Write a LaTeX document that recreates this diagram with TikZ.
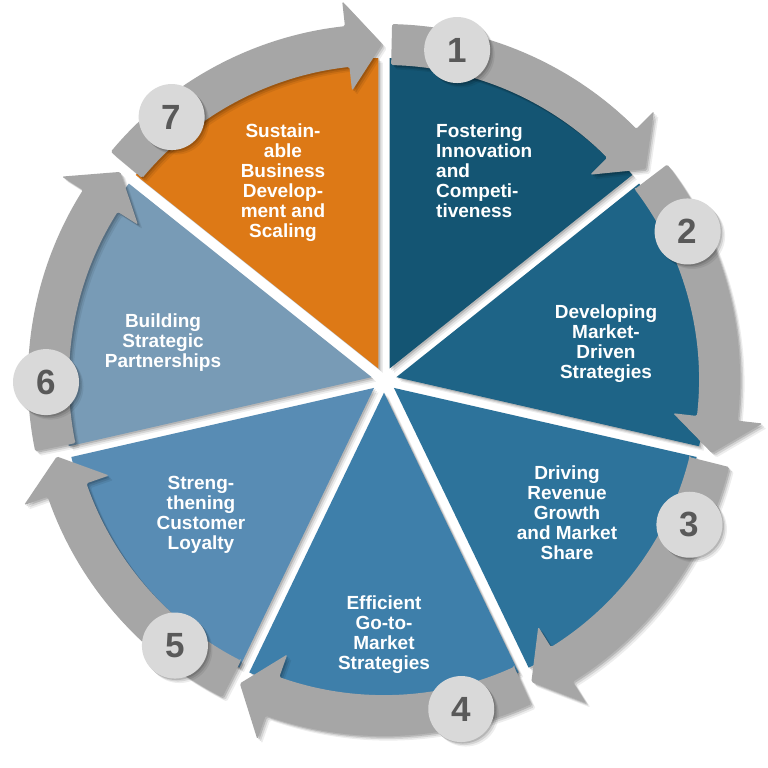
\documentclass[tikz,border=0pt]{standalone}
\usepackage{fontspec}
\setmainfont{Liberation Sans}
\usetikzlibrary{shadows}
\definecolor{w1}{HTML}{145573}
\definecolor{w2}{HTML}{1E6487}
\definecolor{w3}{HTML}{2D739B}
\definecolor{w4}{HTML}{3E7FAA}
\definecolor{w5}{HTML}{588CB4}
\definecolor{w6}{HTML}{789BB6}
\definecolor{w7}{HTML}{DD7916}
\definecolor{arrowgray}{HTML}{A6A6A6}
\definecolor{circgray}{HTML}{D9D9D9}
\definecolor{numgray}{HTML}{595959}
\tikzset{
  softshadow/.style={
    drop shadow={shadow xshift=1.5pt, shadow yshift=-1.5pt, opacity=0.14, fill=black},
    drop shadow={shadow xshift=3pt, shadow yshift=-3pt, opacity=0.10, fill=black},
    drop shadow={shadow xshift=4.5pt, shadow yshift=-4.5pt, opacity=0.07, fill=black}},
  numcirc/.style={circle, minimum size=66pt, inner sep=0pt, fill=circgray, text=numgray,
    font=\fontsize{35}{35}\selectfont\bfseries, softshadow},
  label/.style={text=white, font=\fontsize{19}{20}\selectfont\bfseries, inner sep=0pt}
}
\begin{document}
\begin{tikzpicture}[x=1pt,y=1pt]
\useasboundingbox (-384,-388) rectangle (384,380);
\fill[white] (-384,-388) rectangle (384,380);
% wedges
\foreach \k/\col in {1/w1,2/w2,3/w3,4/w4,5/w5,6/w6,7/w7}{
  \pgfmathsetmacro\aS{90-51.4286*(\k-1)-0.98}
  \pgfmathsetmacro\aE{90-51.4286*\k+0.98}
  \pgfmathsetmacro\aM{90-51.4286*(\k-1)-25.7143}
  \fill[\col, softshadow] (\aM:12.7) -- (\aS:322) arc[start angle=\aS, end angle=\aE, radius=322] -- cycle;
}
% arrows
\foreach \k in {1,...,7}{
  \pgfmathsetmacro\aT{90-51.4286*(\k-1)-1.3}
  \pgfmathsetmacro\aP{90-51.4286*\k+0.3}
  \pgfmathsetmacro\aB{\aP+6}
  \fill[arrowgray, softshadow, rounded corners=1.5pt] (\aT:315) -- (\aT:356)
    arc[start angle=\aT, end angle=\aB, radius=356] -- (\aB:381) -- (\aP:336) -- (\aB:291) -- (\aB:315)
    arc[start angle=\aB, end angle=\aT, radius=315] -- cycle;
}
% number circles
\foreach \k in {1,...,7}{
  \pgfmathsetmacro\aC{77.5-51.4286*(\k-1)}
  \node[numcirc] (n\k) at (\aC:338) {\k};
}
% labels
\node[label, align=left, anchor=west] (t1) at (52,209) {Fostering\\Innovation\\and\\Competi-\\tiveness};
\node[label, align=center] (t2) at (222,36) {Developing\\Market-\\Driven\\Strategies};
\node[label, align=center] (t3) at (183,-133) {Driving\\Revenue\\Growth\\and Market\\Share};
\node[label, align=center] (t4) at (0,-255) {Efficient\\Go-to-\\Market\\Strategies};
\node[label, align=center] (t5) at (-183,-135) {Streng-\\thening\\Customer\\Loyalty};
\node[label, align=center] (t6) at (-221,37) {Building\\Strategic\\Partnerships};
\node[label, align=center] (t7) at (-101,197) {Sustain-\\able\\Business\\Develop-\\ment and\\Scaling};
\end{tikzpicture}
\end{document}
